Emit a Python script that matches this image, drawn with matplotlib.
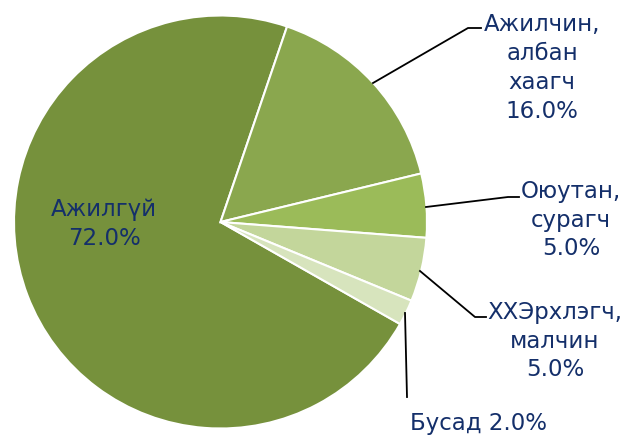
import matplotlib.pyplot as plt

labels = ["Ажилгүй", "Ажилчин,\nалбан\nхаагч", "Оюутан,\nсурагч",
          "ХХЭрхлэгч,\nмалчин", "Бусад"]
values = [72.0, 16.0, 5.0, 5.0, 2.0]
colors = ["#76913C", "#8AA74E", "#9BBB59", "#C3D69B", "#D7E4BD"]

W, H = 625, 439
cx, cy, r = 220.5, H - 223, 206.5
text_color = "#142F6A"

fig = plt.figure(figsize=(W / 100, H / 100), dpi=100)
ax = fig.add_axes([0, 0, 1, 1])

wedges, _ = ax.pie(values, colors=colors, startangle=-29.6, counterclock=False,
                   center=(cx, cy), radius=r,
                   wedgeprops=dict(edgecolor="white", linewidth=1.5))
ax.set_xlim(0, W)
ax.set_ylim(0, H)
ax.set_aspect("equal")
ax.axis("off")

fs = 16.5
ls = 1.32
# label for the big slice sits inside
ax.text(104, H - 224, f"{labels[0]}\n{values[0]:.1f}%", ha="center", va="center",
        fontsize=fs, color=text_color, linespacing=ls)

# outside labels: (text center, leader line points)
outside = [
    ((542, 68), [(373, 84), (468, 29), (481, 29)], f"{labels[1]}\n{values[1]:.1f}%"),
    ((571, 220), [(426, 208), (508, 198), (519, 198)], f"{labels[2]}\n{values[2]:.1f}%"),
    ((555, 341), [(420, 272), (475, 318), (486, 318)], f"{labels[3]}\n{values[3]:.1f}%"),
    ((478, 424), [(405, 314), (407, 398)], f"{labels[4]} {values[4]:.1f}%"),
]
for (tx, ty), pts, txt in outside:
    xs = [p[0] for p in pts]
    ys = [H - p[1] for p in pts]
    ax.plot(xs, ys, color="black", linewidth=1.3)
    ax.text(tx, H - ty, txt, ha="center", va="center", fontsize=fs,
            color=text_color, linespacing=ls)

fig.savefig("out.png", dpi=100)
